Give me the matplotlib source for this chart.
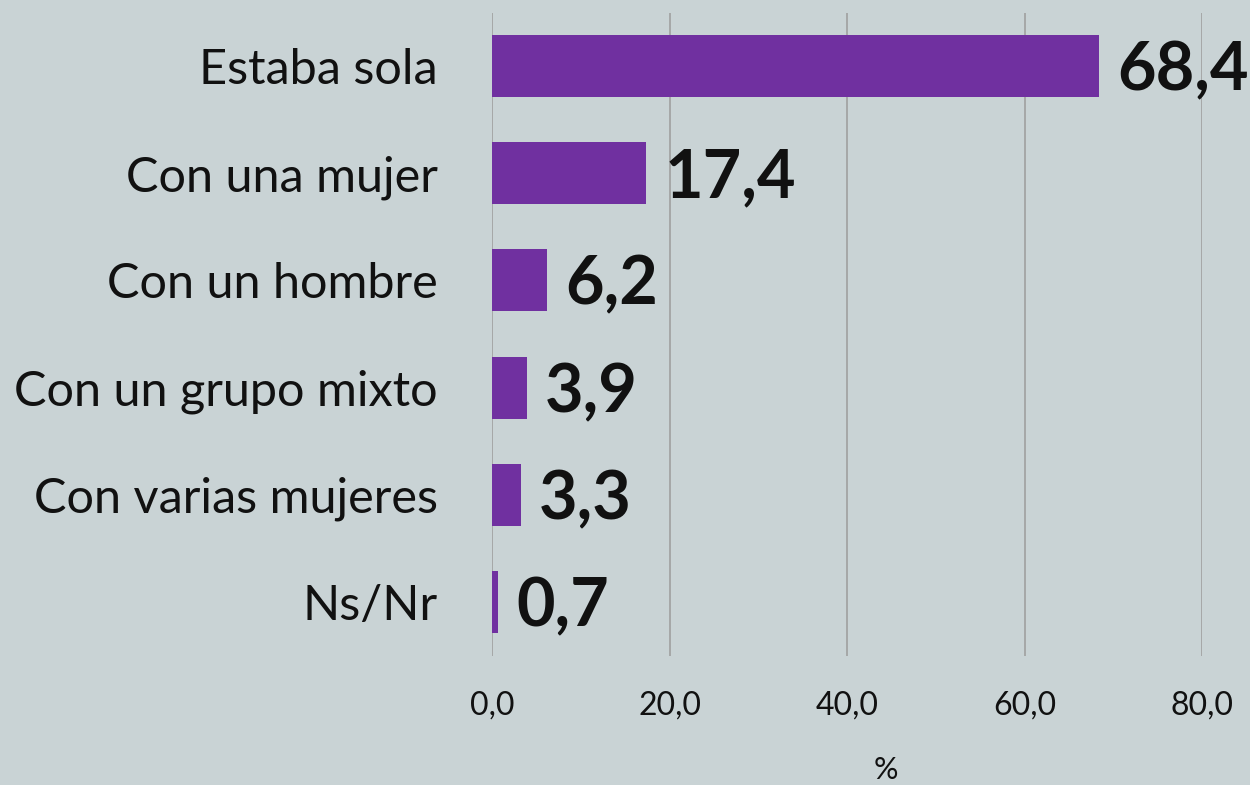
import matplotlib.pyplot as plt

categories = ["Estaba sola", "Con una mujer", "Con un hombre", "Con un grupo mixto", "Con varias mujeres", "Ns/Nr"]
values = [68.4, 17.4, 6.2, 3.9, 3.3, 0.7]
value_labels = ["68,4", "17,4", "6,2", "3,9", "3,3", "0,7"]
xticks = [0, 20, 40, 60, 80]
xtick_labels = ["0,0", "20,0", "40,0", "60,0", "80,0"]

plt.rcParams['font.family'] = ['Lato', 'DejaVu Sans']

bg = '#C9D3D5'
fig = plt.figure(figsize=(12.5, 7.85), dpi=100, facecolor=bg)
ax = fig.add_axes([492/1250, 1 - 655.5/785, 710/1250, (655.5-12.5)/785])
ax.set_facecolor(bg)

y = list(range(len(categories)))
ax.barh(y, values, height=0.58, color='#7030A0', zorder=3)
ax.set_ylim(len(categories) - 0.5, -0.5)
ax.set_xlim(0, 80)
ax.set_xticks(xticks)
ax.set_xticklabels(xtick_labels, fontsize=23, color='#111111')
ax.set_yticks(y)
ax.set_yticklabels(categories, fontsize=35, color='#111111')
ax.tick_params(axis='both', length=0)
ax.tick_params(axis='x', pad=25)
ax.tick_params(axis='y', pad=39)
ax.grid(axis='x', color='#A0A0A0', linewidth=1.2, zorder=0)
for s in ax.spines.values():
    s.set_visible(False)

for yi, v, lab in zip(y, values, value_labels):
    ax.text(v + 2.0, yi + 0.05, lab, va='center', ha='left', fontsize=48,
            fontweight='bold', color='#111111', zorder=4)

fig.text(886/1250, 1 - 770/785, '%', ha='center', va='center', fontsize=22, color='#111111')

fig.savefig('out.png', dpi=100, facecolor=bg)
